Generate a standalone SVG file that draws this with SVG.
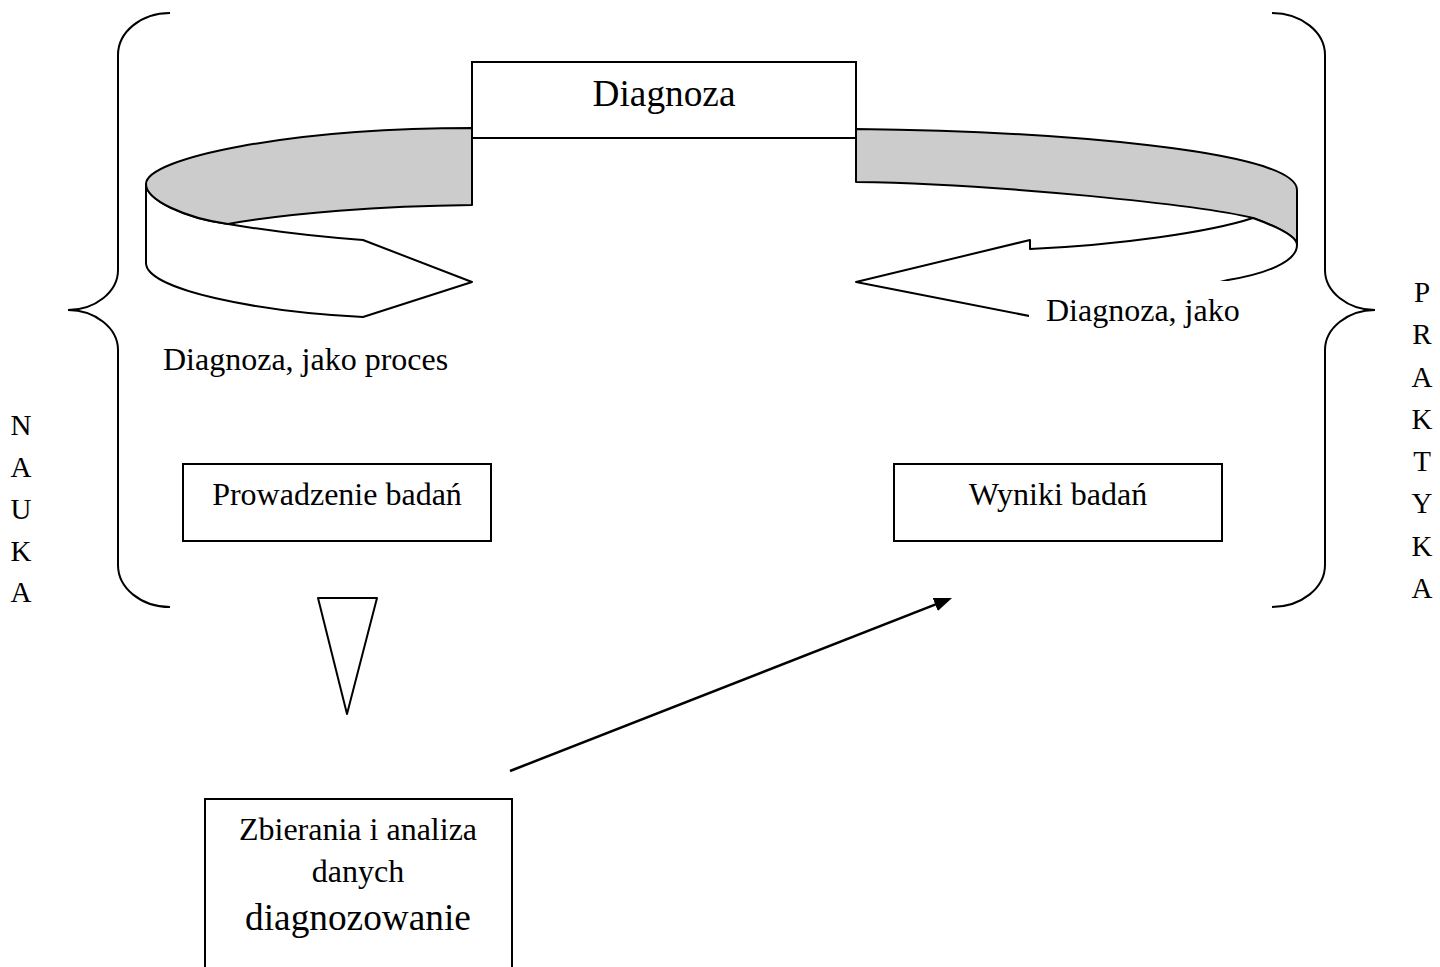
<svg xmlns="http://www.w3.org/2000/svg" width="1440" height="967" viewBox="0 0 1440 967">
<style>
.ln{fill:none;stroke:#000;stroke-width:2}
.box{fill:#fff;stroke:#000;stroke-width:2}
.grey{fill:#cccccc;stroke:#000;stroke-width:2;stroke-linejoin:round}
.wht{fill:#fff;stroke:#000;stroke-width:2;stroke-linejoin:round}
.t{font-family:"Liberation Serif","Times New Roman",serif;fill:#000;font-size:32px}
.tl{font-size:37.3px}
.c{text-anchor:middle}
.v{font-size:29px;text-anchor:middle}
</style>
<defs>
<marker id="ah" markerUnits="userSpaceOnUse" markerWidth="20" markerHeight="16" refX="8" refY="7" orient="auto">
<path d="M0,0 L18,7 L0,14 Z" fill="#000"/>
</marker>
</defs>
<rect width="1440" height="967" fill="#fff"/>

<g id="brace-left">
<path class="ln" d="M170,13 C141,13 118,32 118,55 L118,270 C118,292 95,310 68,310 C95,310 118,328 118,350 L118,565 C118,588 141,607 170,607"/>
</g>
<g id="brace-right">
<path class="ln" d="M1272,13 C1301,13 1325,32 1325,55 L1325,270 C1325,292 1348,310 1375,310 C1348,310 1325,328 1325,350 L1325,565 C1325,588 1301,607 1272,607"/>
</g>

<g id="ring-left">
<path class="wht" d="M146,184 C146,200 185,218 228,224 C270,231 320,237 363,240 L472,282 L363,317 C260,312 146,290 146,263 Z"/>
<path class="grey" d="M146,184 C146,158 290,128 472,128 L472,205 C380,206 290,213 228,224 C185,218 146,200 146,184 Z"/>
</g>

<g id="ring-right">
<path class="grey" d="M856,129 C1050,131 1297,150 1297,190 L1297,245 C1297,236 1275,226 1253,218 C1200,205 1000,184 856,182 Z"/>
<path class="wht" d="M856,282 L1030,240 L1030,249 C1120,245 1210,232 1253,218 C1275,226 1297,236 1297,245 C1297,262 1265,274 1228,280 C1180,292 1100,312 1060,322 Z"/>
</g>

<g id="node-diagnoza">
<rect class="box" x="472" y="62" width="384" height="76"/>
<text class="t tl c" x="664" y="106">Diagnoza</text>
</g>

<g id="label-proces">
<text class="t" x="163" y="370">Diagnoza, jako proces</text>
</g>
<g id="label-jako">
<rect x="1029" y="281" width="222" height="56" fill="#fff"/>
<text class="t" x="1046" y="321">Diagnoza, jako</text>
</g>

<g id="node-prowadzenie">
<rect class="box" x="183" y="464" width="308" height="77"/>
<text class="t c" x="337" y="505">Prowadzenie badań</text>
</g>
<g id="node-wyniki">
<rect class="box" x="894" y="464" width="328" height="77"/>
<text class="t c" x="1058" y="505">Wyniki badań</text>
</g>
<g id="node-zbierania">
<rect class="box" x="205" y="799" width="307" height="190"/>
<text class="t c" x="358" y="840">Zbierania i analiza</text>
<text class="t c" x="358" y="882">danych</text>
<text class="t tl c" x="358" y="930">diagnozowanie</text>
</g>

<g id="label-nauka">
<text class="t v" x="21" y="435">N</text>
<text class="t v" x="21" y="477">A</text>
<text class="t v" x="21" y="519">U</text>
<text class="t v" x="21" y="561">K</text>
<text class="t v" x="21" y="602">A</text>
</g>
<g id="label-praktyka">
<text class="t v" x="1422" y="302">P</text>
<text class="t v" x="1422" y="344">R</text>
<text class="t v" x="1422" y="387">A</text>
<text class="t v" x="1422" y="429">K</text>
<text class="t v" x="1422" y="471">T</text>
<text class="t v" x="1422" y="513">Y</text>
<text class="t v" x="1422" y="556">K</text>
<text class="t v" x="1422" y="598">A</text>
</g>

<g id="connectors">
<polygon class="wht" points="318,598 377,598 347,714"/>
<line x1="510" y1="771" x2="942.7" y2="601.6" stroke="#000" stroke-width="2.5" marker-end="url(#ah)"/>
</g>
</svg>
